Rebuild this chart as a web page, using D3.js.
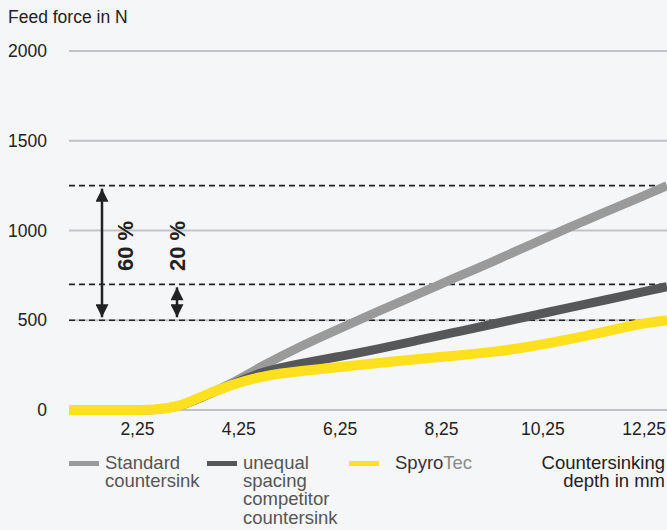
<!DOCTYPE html>
<html>
<head>
<meta charset="utf-8">
<script src="https://cdn.jsdelivr.net/npm/d3@7"></script>
<style>
  html, body { margin: 0; padding: 0; background: #f5f6f8; }
  svg { display: block; font-family: "Liberation Sans", Arial, Helvetica, sans-serif; }
</style>
</head>
<body>
<div id="chart"></div>
<script>
// countersinking depth in mm
var depth = [0.9, 2.0, 2.6, 3.1, 3.5, 4.1, 4.7, 5.5, 6.25, 7.0, 7.75, 8.5, 9.25, 10.0, 10.75, 11.5, 12.25, 12.7];

// feed force in N per tool
var standardForce = [0, 0, 0, 20, 70, 145, 245, 360, 455, 550, 640, 735, 825, 920, 1015, 1105, 1195, 1250];
var competitorForce = [0, 0, 0, 20, 70, 140, 215, 262, 298, 340, 386, 432, 478, 523, 569, 614, 660, 687];
var spyroForce = [0, 0, 0, 20, 75, 140, 190, 218, 240, 262, 283, 302, 322, 352, 392, 438, 485, 500];

var yTicks = [0, 500, 1000, 1500, 2000];
var xTicks = [2.25, 4.25, 6.25, 8.25, 10.25, 12.25];

// reference levels and the savings marked between them
var refLevels = [1250, 700, 500];
var savings = [
    {label: "60 %", from: 1250, to: 500},
    {label: "20 %", from: 700, to: 500}
];

var width = 667;
var height = 530;

var marginLeft = 69;
var marginRight = 0;

const svg = d3.select("#chart").append("svg")
    .attr("width", width)
    .attr("height", height);

// x scale (depth)
var x = d3.scaleLinear()
    .domain([0.9, 12.7])
    .range([marginLeft, width - marginRight]);

// y scale (force)
var y = d3.scaleLinear()
    .domain([0, 2000])
    .range([410, 51]);

// grid lines
svg.append("g")
    .selectAll("line")
    .data(yTicks)
    .join("line")
    .attr("x1", marginLeft)
    .attr("x2", width)
    .attr("y1", d => y(d))
    .attr("y2", d => y(d))
    .attr("stroke", "#c3c3c7")
    .attr("stroke-width", 2);

// y labels
svg.append("g")
    .selectAll("text")
    .data(yTicks)
    .join("text")
    .attr("x", 47)
    .attr("y", d => y(d))
    .attr("dy", "0.35em")
    .attr("text-anchor", "end")
    .attr("font-size", 17.5)
    .attr("fill", "#222")
    .text(d => d);

// x labels
svg.append("g")
    .selectAll("text")
    .data(xTicks)
    .join("text")
    .attr("x", d => x(d))
    .attr("y", 435)
    .attr("text-anchor", "middle")
    .attr("font-size", 17.5)
    .attr("fill", "#222")
    .text(d => String(d).replace(".", ","));

svg.append("text")
    .attr("x", 8)
    .attr("y", 23)
    .attr("font-size", 17.5)
    .attr("fill", "#222")
    .text("Feed force in N");

// dashed reference lines
svg.append("g")
    .selectAll("line")
    .data(refLevels)
    .join("line")
    .attr("x1", marginLeft)
    .attr("x2", width)
    .attr("y1", d => y(d))
    .attr("y2", d => y(d))
    .attr("stroke", "#222")
    .attr("stroke-width", 1.6)
    .attr("stroke-dasharray", "6,4");

// arrow heads
var defs = svg.append("defs");
defs.append("marker")
    .attr("id", "arrow")
    .attr("viewBox", "0 0 10 10")
    .attr("refX", 10)
    .attr("refY", 5)
    .attr("markerUnits", "userSpaceOnUse")
    .attr("markerWidth", 17)
    .attr("markerHeight", 13)
    .attr("orient", "auto-start-reverse")
    .append("path")
    .attr("d", "M0,0L10,5L0,10Z")
    .attr("fill", "#222");

var arrowX = [102, 177];
var labelX = [125, 177];

savings.forEach(function(s, i) {
    svg.append("line")
        .attr("x1", arrowX[i])
        .attr("x2", arrowX[i])
        .attr("y1", y(s.from) + 3)
        .attr("y2", y(s.to) - 3)
        .attr("stroke", "#222")
        .attr("stroke-width", 2.5)
        .attr("marker-start", "url(#arrow)")
        .attr("marker-end", "url(#arrow)");

    svg.append("text")
        .attr("transform", `translate(${labelX[i]},246) rotate(-90)`)
        .attr("text-anchor", "middle")
        .attr("dy", "0.35em")
        .attr("font-size", 22)
        .attr("font-weight", "bold")
        .attr("fill", "#222")
        .text(s.label);
});

// curves
var series = [
    {values: standardForce, color: "#999a99", w: 9},
    {values: competitorForce, color: "#565759", w: 9},
    {values: spyroForce, color: "#ffe01e", w: 10}
];

var line = d3.line()
    .x(d => x(d[0]))
    .y(d => y(d[1]))
    .curve(d3.curveBasis);

svg.append("g")
    .selectAll("path")
    .data(series)
    .join("path")
    .attr("d", s => line(depth.map((d, i) => [d, s.values[i]])))
    .attr("fill", "none")
    .attr("stroke", s => s.color)
    .attr("stroke-width", s => s.w);

// legend
var legend = svg.append("g").attr("font-size", 18.5).attr("fill", "#555");

var legendItems = [
    {x: 69, color: "#999a99", lines: ["Standard", "countersink"]},
    {x: 207, color: "#565759", lines: ["unequal", "spacing", "competitor", "countersink"]}
];

legendItems.forEach(function(item) {
    legend.append("rect")
        .attr("x", item.x)
        .attr("y", 461)
        .attr("width", 30)
        .attr("height", 5)
        .attr("fill", item.color);
    var t = legend.append("text")
        .attr("x", item.x + 36)
        .attr("y", 468.5);
    item.lines.forEach(function(l, j) {
        t.append("tspan")
            .attr("x", item.x + 36)
            .attr("dy", j === 0 ? 0 : 18.4)
            .text(l);
    });
});

legend.append("rect")
    .attr("x", 349)
    .attr("y", 461)
    .attr("width", 30)
    .attr("height", 5)
    .attr("fill", "#ffe01e");

var spyro = legend.append("text")
    .attr("x", 395)
    .attr("y", 468.5);
spyro.append("tspan").attr("fill", "#333").text("Spyro");
spyro.append("tspan").attr("fill", "#8a8a8a").text("Tec");

var axisTitle = svg.append("text")
    .attr("x", 665)
    .attr("y", 468.5)
    .attr("text-anchor", "end")
    .attr("font-size", 18.5)
    .attr("fill", "#222");
axisTitle.append("tspan").attr("x", 665).text("Countersinking");
axisTitle.append("tspan").attr("x", 665).attr("dy", 18.4).text("depth in mm");
</script>
</body>
</html>
